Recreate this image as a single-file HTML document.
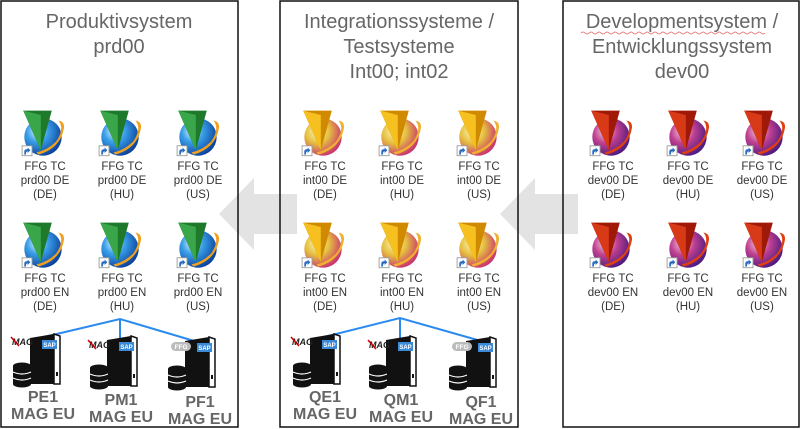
<!DOCTYPE html>
<html><head><meta charset="utf-8"><style>
html,body{margin:0;padding:0;background:#fff}
svg{display:block;font-family:"Liberation Sans",Arial,sans-serif}
</style></head><body>
<svg width="800" height="429" viewBox="0 0 800 429" xmlns="http://www.w3.org/2000/svg">
<defs>
<radialGradient id="gb" cx="0.35" cy="0.35" r="0.7"><stop offset="0" stop-color="#e6f4ff"/><stop offset="0.4" stop-color="#3aa0e8"/><stop offset="1" stop-color="#0a3f9a"/></radialGradient>
<radialGradient id="gy" cx="0.35" cy="0.35" r="0.7"><stop offset="0" stop-color="#f8f8c0"/><stop offset="0.45" stop-color="#e6c040"/><stop offset="1" stop-color="#c83070"/></radialGradient>
<radialGradient id="gp" cx="0.35" cy="0.35" r="0.7"><stop offset="0" stop-color="#f0d0e0"/><stop offset="0.45" stop-color="#c04090"/><stop offset="1" stop-color="#4a1a80"/></radialGradient>
<g id="short"><rect x="0" y="0" width="9" height="9" fill="#fff" stroke="#999" stroke-width="0.8"/><path d="M2 8 L2 5 Q2 3 5 3 L5 1.5 L7.5 4 L5 6.5 L5 5 Q3.5 5 3.5 8Z" fill="#2a6cc0"/></g>
<g id="ib" transform="scale(1.1)"><circle r="17" fill="url(#gb)"/><path d="M-4 16 Q16 10 19 -8 Q20 -14 14 -15 Q20 -8 12 4 Q4 12 -6 14Z" fill="#f0a020"/><path d="M-18 -24 L8 -24 L-2 12Z" fill="#1e7a2a"/><path d="M-18 -24 L-2 -20 L-2 12Z" fill="#3aa64a"/><use href="#short" x="-19" y="8"/></g>
<g id="iy" transform="scale(1.1)"><circle r="17" fill="url(#gy)"/><path d="M-4 16 Q16 10 19 -8 Q20 -14 14 -15 Q20 -8 12 4 Q4 12 -6 14Z" fill="#f0b030"/><path d="M-18 -24 L8 -24 L-2 12Z" fill="#d08a00"/><path d="M-18 -24 L-2 -20 L-2 12Z" fill="#f5c020"/><use href="#short" x="-19" y="8"/></g>
<g id="ip" transform="scale(1.1)"><circle r="17" fill="url(#gp)"/><path d="M-4 16 Q16 10 19 -8 Q20 -14 14 -15 Q20 -8 12 4 Q4 12 -6 14Z" fill="#e04010"/><path d="M-18 -24 L8 -24 L-2 12Z" fill="#a01808"/><path d="M-18 -24 L-2 -20 L-2 12Z" fill="#d83a18"/><use href="#short" x="-19" y="8"/></g>
<g id="srv"><path d="M-12 -4 L12 -8 L18 -6 L18 42 L-12 42Z" fill="#111"/><path d="M12 -8 L18 -6 L18 42 L12 42Z" fill="#fff" stroke="#111" stroke-width="1.5"/><rect x="0" y="-2" width="15" height="9" fill="#3a8ad8"/><text x="7.5" y="5" font-size="6" font-weight="bold" fill="#fff" text-anchor="middle">SAP</text><rect x="14" y="30" width="2" height="4" fill="#111"/>
<ellipse cx="-20" cy="24" rx="9" ry="3.5" fill="#111"/><rect x="-29" y="24" width="18" height="18" fill="#111"/><ellipse cx="-20" cy="42" rx="9" ry="3.5" fill="#111"/><path d="M-29 30 Q-20 34 -11 30 M-29 36 Q-20 40 -11 36" stroke="#fff" stroke-width="1.2" fill="none"/></g>
<g id="mag"><text x="0" y="0" font-size="9" font-weight="bold" fill="#222" font-style="italic">MAG</text><path d="M-1 -8 L7 1" stroke="#c00" stroke-width="1.5"/></g>
<g id="ffg"><rect x="-2" y="-8" width="20" height="9" rx="4.5" fill="#bbb"/><text x="8" y="-1" font-size="6.5" fill="#fff" text-anchor="middle" font-weight="bold">FFG</text></g>
</defs>

<path d="M219 214 L254 178 L254 194 L297 194 L297 234 L254 234 L254 250Z" fill="#e3e3e3"/>
<path d="M500 214 L535 178 L535 194 L578 194 L578 234 L535 234 L535 250Z" fill="#e3e3e3"/>

<rect x="1" y="1" width="237" height="426" fill="none" stroke="#111" stroke-width="1.5"/>
<rect x="280" y="1" width="238" height="426" fill="none" stroke="#111" stroke-width="1.5"/>
<rect x="563" y="1" width="236" height="426" fill="none" stroke="#111" stroke-width="1.5"/>

<g font-size="20" fill="#666" text-anchor="middle">
<text x="119" y="28">Produktivsystem</text><text x="119" y="53">prd00</text>
<text x="399" y="28">Integrationssysteme /</text><text x="399" y="53">Testsysteme</text><text x="399" y="78">Int00; int02</text>
<text x="682" y="28">Developmentsystem /</text><text x="682" y="53">Entwicklungssystem</text><text x="682" y="78">dev00</text>
</g>
<path d="M581 33 Q583 31 585 33 T589 33 T593 33 T597 33 T601 33 T605 33 T609 33 T613 33 T617 33 T621 33 T625 33 T629 33 T633 33 T637 33 T641 33 T645 33 T649 33 T653 33 T657 33 T661 33 T665 33 T669 33 T673 33 T677 33 T681 33 T685 33 T689 33 T693 33 T697 33 T701 33 T705 33 T709 33 T713 33 T717 33 T721 33 T725 33 T729 33 T733 33 T737 33 T741 33 T745 33 T749 33 T753 33 T757 33 T761 33 T765 33" stroke="#e06060" stroke-width="0.7" fill="none"/>

<use href="#ib" x="43" y="137"/><use href="#ib" x="120" y="137"/><use href="#ib" x="198" y="137"/>
<use href="#ib" x="43" y="249"/><use href="#ib" x="120" y="249"/><use href="#ib" x="198" y="249"/>
<use href="#iy" x="323" y="137"/><use href="#iy" x="400" y="137"/><use href="#iy" x="478" y="137"/>
<use href="#iy" x="323" y="249"/><use href="#iy" x="400" y="249"/><use href="#iy" x="478" y="249"/>
<use href="#ip" x="611" y="137"/><use href="#ip" x="688" y="137"/><use href="#ip" x="764" y="137"/>
<use href="#ip" x="611" y="249"/><use href="#ip" x="688" y="249"/><use href="#ip" x="764" y="249"/>

<g font-size="11.5" fill="#333" text-anchor="middle">
<text x="45" y="170">FFG TC</text><text x="45" y="184">prd00 DE</text><text x="45" y="198">(DE)</text>
<text x="122" y="170">FFG TC</text><text x="122" y="184">prd00 DE</text><text x="122" y="198">(HU)</text>
<text x="198" y="170">FFG TC</text><text x="198" y="184">prd00 DE</text><text x="198" y="198">(US)</text>
<text x="45" y="282">FFG TC</text><text x="45" y="296">prd00 EN</text><text x="45" y="310">(DE)</text>
<text x="122" y="282">FFG TC</text><text x="122" y="296">prd00 EN</text><text x="122" y="310">(HU)</text>
<text x="198" y="282">FFG TC</text><text x="198" y="296">prd00 EN</text><text x="198" y="310">(US)</text>

<text x="325" y="170">FFG TC</text><text x="325" y="184">int00 DE</text><text x="325" y="198">(DE)</text>
<text x="402" y="170">FFG TC</text><text x="402" y="184">int00 DE</text><text x="402" y="198">(HU)</text>
<text x="479" y="170">FFG TC</text><text x="479" y="184">int00 DE</text><text x="479" y="198">(US)</text>
<text x="325" y="282">FFG TC</text><text x="325" y="296">int00 EN</text><text x="325" y="310">(DE)</text>
<text x="402" y="282">FFG TC</text><text x="402" y="296">int00 EN</text><text x="402" y="310">(HU)</text>
<text x="479" y="282">FFG TC</text><text x="479" y="296">int00 EN</text><text x="479" y="310">(US)</text>

<text x="613" y="170">FFG TC</text><text x="613" y="184">dev00 DE</text><text x="613" y="198">(DE)</text>
<text x="688" y="170">FFG TC</text><text x="688" y="184">dev00 DE</text><text x="688" y="198">(HU)</text>
<text x="762" y="170">FFG TC</text><text x="762" y="184">dev00 DE</text><text x="762" y="198">(US)</text>
<text x="613" y="282">FFG TC</text><text x="613" y="296">dev00 EN</text><text x="613" y="310">(DE)</text>
<text x="688" y="282">FFG TC</text><text x="688" y="296">dev00 EN</text><text x="688" y="310">(HU)</text>
<text x="762" y="282">FFG TC</text><text x="762" y="296">dev00 EN</text><text x="762" y="310">(US)</text>
</g>

<g stroke="#2a8af0" stroke-width="2" fill="none">
<path d="M44 337 L120 319 L201 343 M120 319 L120 340"/>
<path d="M324 337 L400 318 L481 341 M400 318 L400 340"/>
</g>

<use href="#srv" x="42" y="342"/><use href="#srv" x="119" y="344"/><use href="#srv" x="197" y="345"/>
<use href="#srv" x="322" y="342"/><use href="#srv" x="398" y="344"/><use href="#srv" x="478" y="345"/>
<use href="#mag" x="12" y="345"/><use href="#mag" x="89" y="348"/><use href="#ffg" x="173" y="350"/>
<use href="#mag" x="292" y="345"/><use href="#mag" x="369" y="348"/><use href="#ffg" x="454" y="350"/>

<g font-size="16" font-weight="bold" fill="#666" text-anchor="middle">
<text x="43" y="402">PE1</text><text x="43" y="419">MAG EU</text>
<text x="121" y="405">PM1</text><text x="121" y="422">MAG EU</text>
<text x="200" y="407">PF1</text><text x="200" y="424">MAG EU</text>
<text x="325" y="402">QE1</text><text x="325" y="419">MAG EU</text>
<text x="401" y="405">QM1</text><text x="401" y="422">MAG EU</text>
<text x="481" y="407">QF1</text><text x="481" y="424">MAG EU</text>
</g>
</svg>
</body></html>
